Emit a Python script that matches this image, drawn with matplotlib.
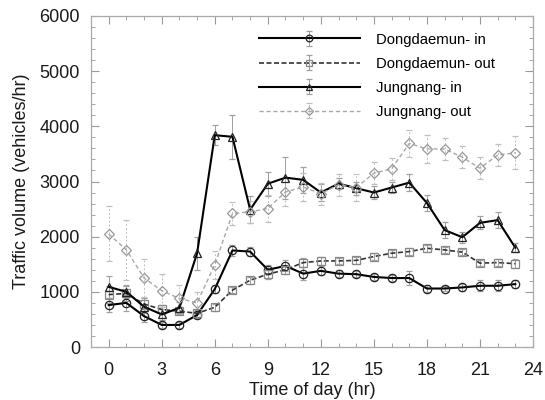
import matplotlib
matplotlib.use("Agg")
import matplotlib.pyplot as plt
from matplotlib.ticker import MultipleLocator

plt.rcParams.update({"font.family": ["Liberation Sans", "DejaVu Sans"]})

hours = list(range(24))

dong_in = [760, 800, 560, 400, 400, 580, 1050, 1750, 1730, 1400, 1470, 1330, 1380,
           1330, 1320, 1270, 1250, 1250, 1060, 1060, 1080, 1110, 1110, 1140]
dong_in_err = [120, 150, 100, 60, 50, 60, 80, 100, 80, 80, 100, 120, 80,
               70, 60, 60, 60, 120, 60, 50, 60, 100, 100, 70]

dong_out = [950, 970, 780, 680, 650, 610, 720, 1030, 1210, 1320, 1400, 1530, 1560,
            1560, 1570, 1640, 1700, 1730, 1790, 1760, 1720, 1520, 1530, 1510]
dong_out_err = [150, 130, 100, 80, 60, 60, 60, 60, 60, 80, 80, 80, 70,
                60, 60, 60, 60, 60, 60, 60, 60, 60, 60, 80]

jung_in = [1090, 1000, 730, 590, 710, 1700, 3840, 3810, 2490, 2960, 3070, 3030, 2800,
           2960, 2880, 2800, 2890, 2980, 2610, 2120, 1990, 2250, 2300, 1800]
jung_in_err = [200, 120, 120, 100, 100, 300, 180, 400, 250, 220, 380, 230, 150,
               100, 120, 120, 100, 150, 150, 150, 100, 120, 150, 80]

jung_out = [2050, 1760, 1250, 1020, 880, 800, 1490, 2420, 2450, 2510, 2810, 2900, 2780,
            2940, 2890, 3150, 3230, 3690, 3590, 3590, 3440, 3240, 3480, 3520]
jung_out_err = [500, 550, 350, 300, 250, 200, 250, 200, 200, 250, 250, 250, 200,
                200, 250, 200, 200, 250, 250, 200, 200, 200, 200, 300]

fig = plt.figure(figsize=(5.45, 4.0), dpi=100)
ax = fig.add_axes([0.167, 0.1325, 0.811, 0.8275])

ERR = dict(ecolor="#a0a0a0", elinewidth=0.7, capsize=2.5, capthick=0.7)

ax.errorbar(hours, dong_in, yerr=dong_in_err, color="black", lw=1.5, marker="o",
            ms=6, mfc="none", mec="#222222", mew=0.9, label="Dongdaemun- in", **ERR)
ax.errorbar(hours, dong_out, yerr=dong_out_err, color="#333333", lw=1.2, ls=(0, (3, 1.5)),
            marker="s", ms=6, mfc="none", mec="#888888", mew=0.9,
            label="Dongdaemun- out", **ERR)
ax.errorbar(hours, jung_in, yerr=jung_in_err, color="black", lw=1.5, marker="^",
            ms=6, mfc="none", mec="#222222", mew=0.9, label="Jungnang- in", **ERR)
e = ax.errorbar(hours, jung_out, yerr=jung_out_err, color="#a8a8a8", lw=1.0,
                ls=(0, (3, 2)), marker="D", ms=5.5, mfc="none", mec="#999999", mew=0.9,
                label="Jungnang- out", ecolor="#c0c0c0", elinewidth=0.7, capsize=2.5,
                capthick=0.7)
for lc in e[2]:
    lc.set_linestyle((0, (2, 2)))

ax.set_xlim(-1, 24)
ax.set_ylim(0, 6000)
ax.xaxis.set_major_locator(MultipleLocator(3))
ax.xaxis.set_minor_locator(MultipleLocator(1))
ax.yaxis.set_major_locator(MultipleLocator(1000))
ax.yaxis.set_minor_locator(MultipleLocator(200))
ax.tick_params(which="both", direction="in", top=True, right=True, color="#999999",
               labelsize=13, labelcolor="#1a1a1a")
ax.tick_params(axis="y", which="major", pad=8)
ax.tick_params(axis="x", which="major", pad=11)
ax.tick_params(which="major", length=6, width=0.8)
ax.tick_params(which="minor", length=3, width=0.6)
for s in ax.spines.values():
    s.set_color("#aaaaaa")
    s.set_linewidth(0.9)

ax.set_xlabel("Time of day (hr)", fontsize=13, labelpad=2, color="#1a1a1a")
ax.set_ylabel("Traffic volume (vehicles/hr)", fontsize=13, labelpad=7, color="#1a1a1a")

ax.legend(loc="upper right", bbox_to_anchor=(0.945, 0.99), frameon=False,
          fontsize=10.7, handlelength=6.8, handletextpad=1.1, labelspacing=0.68,
          markerscale=0.8)

fig.savefig("out.png", dpi=100)
